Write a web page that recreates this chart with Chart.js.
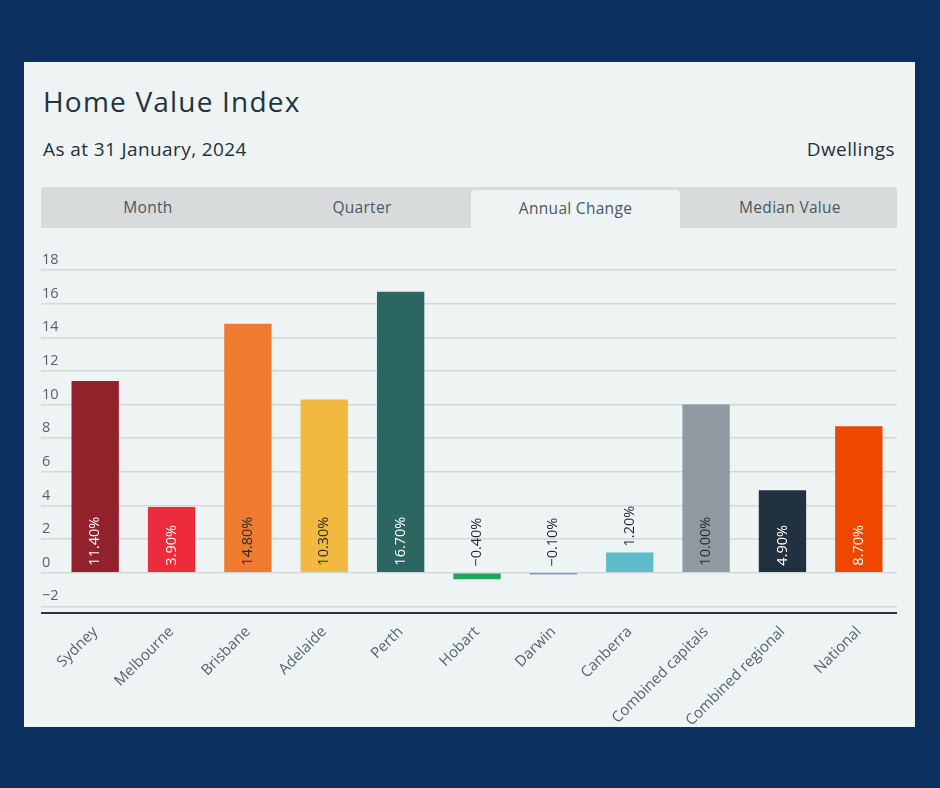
<!DOCTYPE html>
<html>
<head>
<meta charset="utf-8">
<title>Home Value Index</title>
<script src="https://cdn.jsdelivr.net/npm/chart.js@4.4.1/dist/chart.umd.min.js"></script>
<style>
  html, body { margin: 0; padding: 0; }
  body { width: 940px; height: 788px; background: #0b2f5f; position: relative; overflow: hidden;
         font-family: "Open Sans", "Noto Sans", sans-serif; }
  .card { position: absolute; left: 24px; top: 62px; width: 891px; height: 665px; background: #eef3f3; overflow: hidden; }
  .title { position: absolute; left: 19px; top: 20px; font-size: 28px; font-weight: 500; color: #223240; margin: 0; letter-spacing: 1.2px; }
  .sub { position: absolute; left: 19px; top: 74px; font-size: 19px; color: #25313b; letter-spacing: 0.4px; }
  .dw { position: absolute; right: 20px; top: 74px; font-size: 19px; color: #25313b; letter-spacing: 0.4px; }
  .tabs { position: absolute; left: 17px; top: 125px; width: 856px; height: 41px; background: #d7dbdc; border-radius: 4px 4px 0 0; }
  .tab { position: absolute; top: 0; height: 41px; line-height: 41px; text-align: center; font-size: 15.5px; color: #4b5761; letter-spacing: 0.3px; }
  .tab.on { background: #eef3f3; top: 3px; height: 38px; line-height: 36px; border-radius: 4px 4px 0 0; }
  #wrap { position: absolute; left: 17px; top: 178px; width: 856px; height: 495px; }
</style>
</head>
<body>
<div class="card">
  <h1 class="title">Home Value Index</h1>
  <div class="sub">As at 31 January, 2024</div>
  <div class="dw">Dwellings</div>
  <div class="tabs">
    <div class="tab" style="left:0;width:214px">Month</div>
    <div class="tab" style="left:214px;width:214px">Quarter</div>
    <div class="tab on" style="left:430px;width:209px">Annual Change</div>
    <div class="tab" style="left:642px;width:214px">Median Value</div>
  </div>
  <div id="wrap"><canvas id="hviChart"></canvas></div>
</div>
<script>
// data
const regions = ['Sydney', 'Melbourne', 'Brisbane', 'Adelaide', 'Perth', 'Hobart', 'Darwin',
                 'Canberra', 'Combined capitals', 'Combined regional', 'National'];
const annualChange = [11.4, 3.9, 14.8, 10.3, 16.7, -0.4, -0.1, 1.2, 10.0, 4.9, 8.7];
const yTicks = [-2, 0, 2, 4, 6, 8, 10, 12, 14, 16, 18];

const barColours = ['#93222d', '#ec2b3c', '#ef7b30', '#f1b940', '#2b6660', '#1ea65c',
                    '#1f5080', '#5fbccb', '#8f9aa0', '#22313f', '#ef4600'];
const labelColours = ['#ffffff', '#ffffff', '#1f2a33', '#1f2a33', '#ffffff', '#1f2a33',
                      '#1f2a33', '#1f2a33', '#1f2a33', '#ffffff', '#ffffff'];

const fontFamily = '"Open Sans", "Noto Sans", sans-serif';
Chart.defaults.font.family = fontFamily;

function fmtPct(v) {
    return v.toFixed(2).replace('-', '\u2212') + '%';
}

// vertical value labels: inside the bar at its base when they fit, otherwise above
const valueLabels = {
    id: 'valueLabels',
    afterDatasetsDraw(chart) {
        const ctx = chart.ctx;
        const y0 = chart.scales.y.getPixelForValue(0);
        const meta = chart.getDatasetMeta(0);
        ctx.save();
        ctx.font = '14.5px ' + fontFamily;
        ctx.textAlign = 'left';
        ctx.textBaseline = 'middle';
        meta.data.forEach((bar, i) => {
            const v = annualChange[i];
            const txt = fmtPct(v);
            const w = ctx.measureText(txt).width;
            let start, colour;
            if (v > 0 && (y0 - bar.y) > w + 14) {
                start = y0 - 7;
                colour = labelColours[i];
            } else if (v > 0) {
                start = bar.y - 6;
                colour = '#1f2a33';
            } else {
                start = y0 - 6;
                colour = '#1f2a33';
            }
            ctx.save();
            ctx.translate(bar.x, start);
            ctx.rotate(-Math.PI / 2);
            ctx.fillStyle = colour;
            ctx.fillText(txt, 0, 0);
            ctx.restore();
        });
        ctx.restore();
    },
    // dark base line runs under the y labels too
    afterDraw(chart) {
        const ctx = chart.ctx;
        const b = chart.chartArea.bottom;
        ctx.save();
        ctx.strokeStyle = '#2b3640';
        ctx.lineWidth = 2;
        ctx.beginPath();
        ctx.moveTo(0, b);
        ctx.lineTo(chart.chartArea.right, b);
        ctx.stroke();
        ctx.restore();
    }
};

const ctx = document.getElementById('hviChart').getContext('2d');
const hviChart = new Chart(ctx, {
    type: 'bar',
    data: {
        labels: regions,
        datasets: [{
            label: 'Annual Change',
            data: annualChange,
            backgroundColor: barColours,
            borderWidth: 0,
            barPercentage: 0.62,
            categoryPercentage: 1
        }]
    },
    options: {
        responsive: true,
        maintainAspectRatio: false,
        animation: false,
        layout: { padding: { top: 30, left: 0, right: 0, bottom: 0 } },
        plugins: {
            legend: { display: false },
            tooltip: { enabled: false }
        },
        scales: {
            x: {
                grid: { display: false },
                border: { display: false },
                ticks: {
                    color: '#56636d',
                    font: { size: 15 },
                    minRotation: 45,
                    maxRotation: 45,
                    padding: 2,
                    autoSkip: false
                },
                afterFit: s => { s.height = 122; }
            },
            y: {
                min: -2.4,
                max: 18,
                afterBuildTicks: s => { s.ticks = yTicks.map(v => ({ value: v })); },
                afterFit: s => { s.width = 16; },
                border: { display: false },
                grid: { color: '#d3d8da', lineWidth: 1.5, tickLength: 16 },
                ticks: {
                    mirror: true,
                    padding: -15,
                    labelOffset: -10,
                    color: '#56636d',
                    font: { size: 14.5 },
                    callback: v => String(v).replace('-', '\u2212')
                }
            }
        }
    },
    plugins: [valueLabels]
});
</script>
</body>
</html>
